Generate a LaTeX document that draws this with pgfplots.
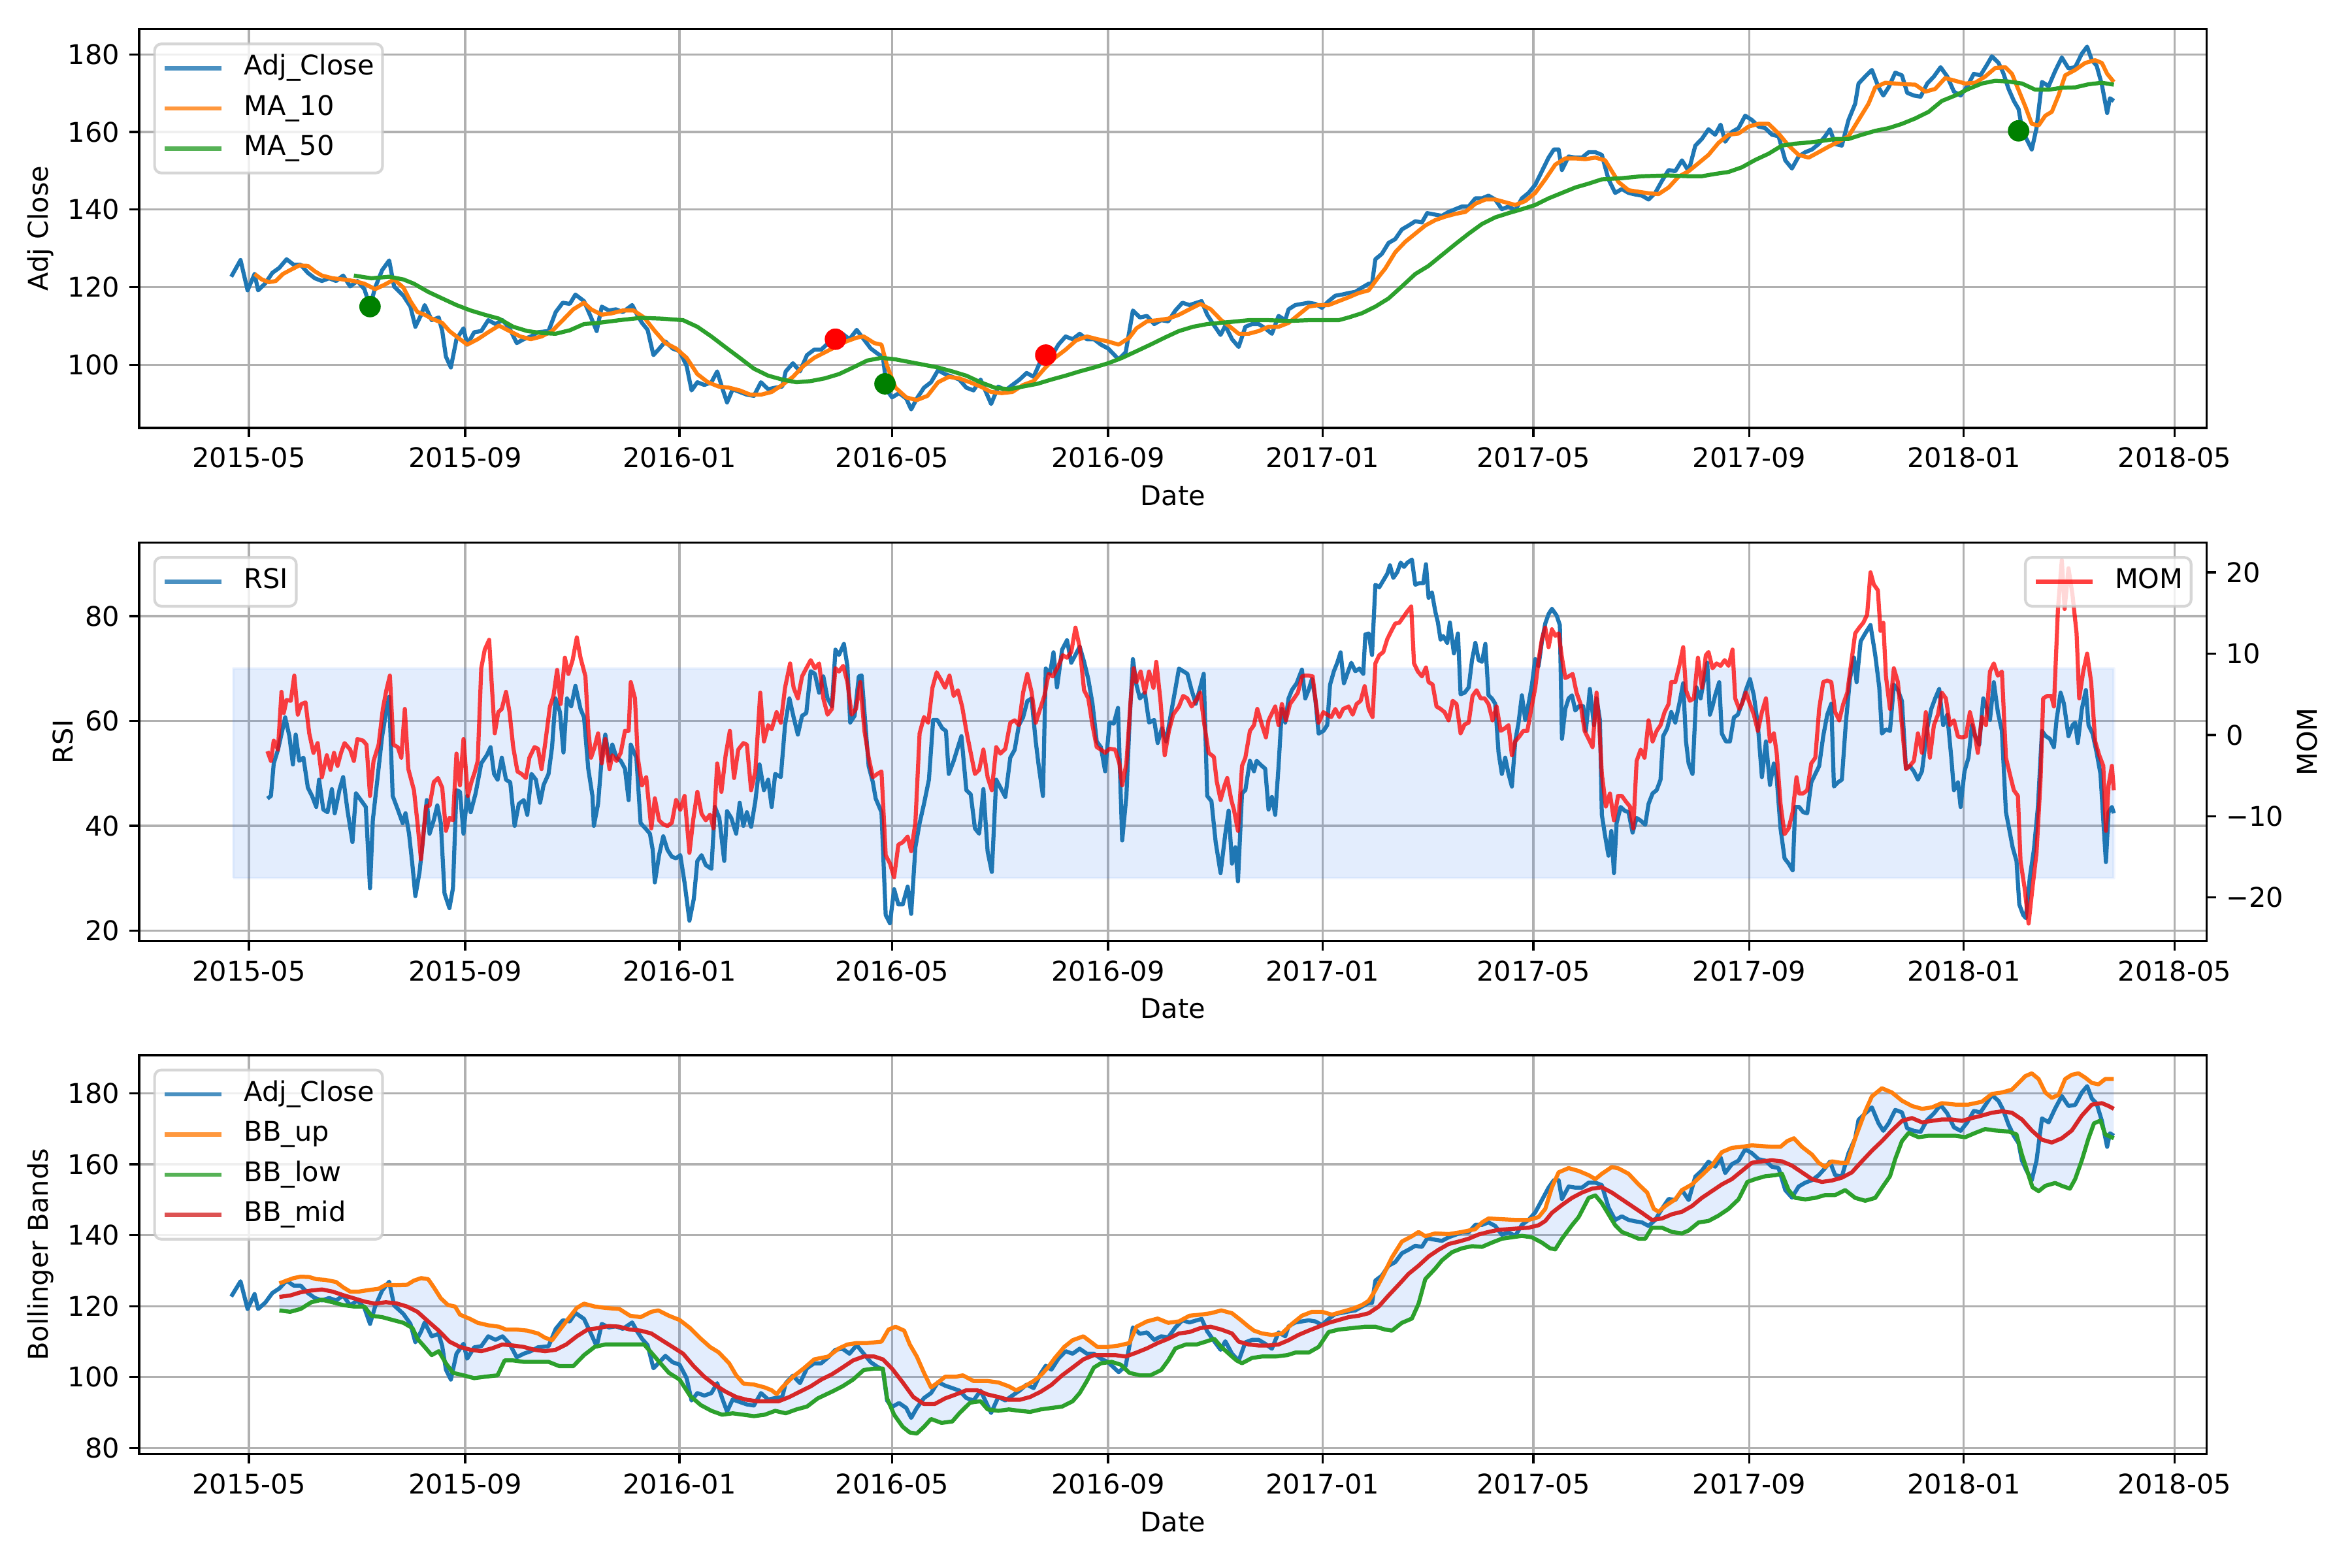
\documentclass[border=0pt]{standalone}
\usepackage{fontspec}
\setmainfont{DejaVu Sans}
\usepackage{pgfplots}
\usepackage{pgfplotstable}
\pgfplotsset{compat=1.18}
\usepgfplotslibrary{fillbetween}
\definecolor{c0}{HTML}{1F77B4}
\definecolor{c1}{HTML}{FF7F0E}
\definecolor{c2}{HTML}{2CA02C}
\definecolor{c3}{HTML}{D62728}
\definecolor{gridc}{HTML}{B0B0B0}
\definecolor{legedge}{HTML}{CCCCCC}
\definecolor{bandc}{RGB}{60,130,240}
\definecolor{mgreen}{HTML}{008000}

\pgfplotstableread{
x y
-10.1 122.7
-4.8 127.0
-0.8 119.2
3.2 123.4
5.2 119.2
9.3 121.0
13.3 123.7
17.3 125.0
21.4 127.2
25.4 125.8
29.4 125.8
33.5 123.7
37.5 122.3
41.5 121.6
45.6 122.3
49.6 121.6
53.6 123.0
57.6 120.2
61.7 121.6
65.7 119.5
68.9 115.0
71.8 119.9
75.8 124.4
79.8 126.9
82.6 120.2
87.9 117.8
91.9 115.0
94.7 109.8
98.0 112.9
100.0 115.4
104.0 111.5
108.0 112.2
110.0 108.7
112.1 102.1
114.9 99.3
118.1 106.6
122.1 109.4
124.2 105.2
128.2 108.4
132.2 108.7
136.2 111.5
140.3 110.5
144.3 111.5
148.3 109.4
152.4 105.6
156.4 106.6
160.4 107.3
164.5 108.4
170.5 108.7
174.6 113.6
178.6 116.0
182.6 115.7
185.8 118.1
190.7 116.4
194.7 112.2
197.9 108.7
200.8 115.0
204.8 114.0
208.8 114.3
212.8 113.6
218.1 115.4
220.9 112.9
223.7 110.8
226.9 109.0
230.2 102.5
233.0 103.9
237.0 106.0
241.1 104.2
245.1 103.5
249.1 99.7
251.9 93.4
255.2 95.5
259.2 94.8
263.2 95.5
266.5 98.3
269.3 94.1
272.1 90.3
275.3 93.7
279.3 93.0
283.4 92.3
287.4 92.0
291.4 95.5
295.5 93.7
299.5 94.1
303.5 94.4
305.5 98.3
309.6 100.4
313.6 98.3
317.6 102.5
321.7 103.9
325.7 103.9
329.7 105.6
333.8 107.7
337.8 108.0
341.8 106.6
345.9 109.0
349.9 106.6
353.9 104.2
358.0 102.8
360.8 102.1
363.2 93.4
366.0 91.6
370.0 92.7
374.1 91.3
376.9 88.5
380.1 91.3
384.2 94.1
388.2 95.5
392.2 98.6
396.2 97.6
400.3 96.9
404.3 96.2
408.3 94.1
412.4 93.4
416.4 96.2
420.4 92.0
422.4 89.9
426.5 94.4
430.5 93.4
434.5 94.8
438.6 96.2
442.6 97.9
446.6 96.9
450.7 101.1
453.5 103.2
456.7 102.1
460.7 105.2
464.8 107.3
468.8 106.6
472.8 108.0
476.9 106.6
480.9 106.6
484.9 105.2
489.0 104.2
495.0 101.4
499.0 103.2
503.1 114.0
507.1 112.2
511.1 112.6
515.2 110.5
519.2 111.5
523.2 111.2
527.3 114.0
531.3 116.0
535.3 115.4
539.4 116.0
542.2 116.4
545.4 112.9
549.4 110.1
553.0 107.7
555.7 110.1
559.5 106.6
563.3 104.6
567.1 109.8
570.9 110.5
574.7 110.5
578.4 109.4
582.2 108.0
586.0 112.6
589.8 111.5
591.7 114.3
595.5 115.4
599.3 115.7
603.1 116.0
606.9 115.7
610.7 114.7
614.5 116.4
618.3 117.8
622.1 118.1
625.9 118.5
629.7 118.8
633.5 119.9
637.3 120.9
639.2 120.9
641.1 127.2
644.8 128.6
648.6 131.4
652.4 132.4
656.2 134.9
660.0 135.9
663.8 137.0
667.6 136.7
670.6 139.1
675.2 138.7
679.0 138.4
682.8 139.4
686.6 140.1
690.4 140.8
694.2 140.8
698.0 142.9
701.8 142.9
705.5 143.6
709.3 142.6
713.1 140.1
716.9 140.8
720.7 139.8
724.5 142.9
728.3 144.3
732.1 146.4
735.9 149.9
739.7 153.4
742.7 155.5
745.4 155.5
747.3 150.2
751.1 153.7
754.9 153.4
758.7 153.4
762.5 154.8
766.3 154.8
770.0 154.1
773.8 147.8
777.6 144.3
781.4 145.3
785.2 144.3
789.0 143.9
792.8 143.6
796.6 142.6
800.4 144.3
804.2 147.4
808.0 150.2
811.8 149.9
815.6 152.7
819.4 149.9
823.2 156.5
826.9 158.2
830.7 160.7
834.5 159.3
837.6 161.9
840.2 157.5
844.0 160.0
847.8 161.0
851.6 164.2
855.4 163.1
859.2 161.4
863.0 161.0
866.8 159.3
870.6 158.9
874.4 152.7
878.2 150.6
882.0 153.7
885.8 154.8
889.6 155.5
893.4 156.9
897.1 158.9
899.8 160.7
902.8 156.9
906.6 156.5
910.4 163.1
914.2 167.3
916.1 172.5
919.9 174.3
923.7 176.0
927.5 171.5
930.2 169.4
933.2 171.5
937.0 175.3
940.8 174.6
943.8 170.1
947.6 169.4
951.4 169.1
955.2 172.5
959.0 174.3
962.8 176.7
966.6 174.3
970.4 170.4
974.2 169.4
978.0 171.8
981.7 175.0
985.5 174.6
989.3 177.4
992.0 179.5
995.8 177.8
998.4 175.3
1001.5 171.1
1004.5 168.0
1007.2 165.9
1009.1 161.0
1011.7 158.2
1014.7 155.5
1017.4 161.0
1020.5 172.9
1024.3 171.8
1028.0 175.7
1031.8 179.2
1035.6 176.4
1039.4 176.7
1043.2 180.2
1046.2 182.0
1048.9 178.5
1051.6 177.1
1054.6 172.2
1057.6 164.9
1059.2 168.7
1061.4 168.0
}\adjclose

\pgfplotsset{
  base/.style={
    scale only axis, width=10.548in, height=2.035in,
    xmin=-62.5, xmax=1114.2,
    xtick={0,123,245,366,489,611,731,854,976,1096},
    xticklabels={2015-05,2015-09,2016-01,2016-05,2016-09,2017-01,2017-05,2017-09,2018-01,2018-05},
    axis line style={line width=0.8pt},
    tick align=outside, major tick length=3.5pt,
    major tick style={black, line width=0.8pt},
    xtick pos=lower, ytick pos=left,
    tick label style={font=\fontsize{10}{12}\selectfont, inner sep=3.5pt},
    label style={font=\fontsize{10}{12}\selectfont},
    xlabel=Date,
    xlabel style={at={(axis description cs:0.5,-0.1938)}, anchor=base},
    legend cell align=left,
    legend image code/.code={\draw[#1, line width=1.5pt] (0pt,0pt) -- (21pt,0pt);},
    legend style={font=\fontsize{10}{12}\selectfont, draw=legedge, line width=1pt,
      fill=white, fill opacity=0.8, draw opacity=0.8, text opacity=1,
      rounded corners=2.5pt, inner xsep=3pt, inner ysep=4pt, row sep=4.8pt,
      nodes={inner sep=0pt, text height=7.5pt, text depth=2.5pt},
      /tikz/every odd column/.append style={column sep=7.5pt}},
    every axis plot/.append style={line width=1.5pt, line join=round},
  },
  gridded/.style={grid=major, major grid style={gridc, line width=0.8pt}},
}

\begin{document}
\begin{tikzpicture}

% ---------------- Top panel ----------------
\begin{axis}[base, gridded, at={(0.710in,5.817in)}, anchor=south west,
  ymin=83.75, ymax=186.55, ytick={100,120,140,160,180},
  yticklabels={100,120,140,160,180},
  ylabel={Adj Close},
  ylabel style={at={(axis description cs:-0.0477,0.5)}, anchor=center},
  legend style={at={(0,1)}, anchor=north west, xshift=5.2pt, yshift=-5pt}]
\addplot[only marks, mark=*, mark size=3.2pt, color=mgreen, forget plot] coordinates {(68.9,115.0) (362.0,95.1) (1007.2,160.3)};
\addplot[only marks, mark=*, mark size=3.2pt, color=red, forget plot] coordinates {(333.8,106.6) (453.5,102.5)};
\addplot[c0] table[x=x, y=y] {\adjclose};
\addlegendentry{Adj\_Close}
\addplot[c1] table {
x y
3.2 123.4
7.3 122.0
11.3 121.3
15.3 121.6
19.3 123.4
23.4 124.4
28.6 125.6
33.5 125.5
37.5 124.1
41.5 123.0
47.6 122.3
53.6 122.0
59.7 121.6
65.7 120.9
71.8 119.5
77.0 120.6
82.6 122.0
87.9 119.9
91.9 116.4
95.9 113.6
100.0 112.9
104.0 111.9
110.0 110.8
114.1 108.7
120.1 106.6
124.2 105.2
130.2 106.6
136.2 108.4
142.3 110.1
148.3 108.7
154.4 107.3
160.4 106.6
166.5 107.3
172.5 108.7
178.6 111.5
184.6 114.3
190.7 116.0
194.7 114.3
200.8 112.9
206.8 113.3
212.8 114.0
218.9 114.0
224.9 112.2
231.0 108.7
237.0 105.6
243.1 104.2
249.1 101.8
255.2 97.6
261.2 95.5
267.3 94.4
273.3 94.1
279.3 93.4
285.4 92.3
291.4 92.3
297.5 93.0
303.5 94.8
309.6 96.9
315.6 99.7
321.7 101.8
327.7 103.2
333.8 104.6
339.8 106.0
345.9 107.0
349.9 107.3
355.9 105.6
360.0 105.2
363.2 99.7
368.0 94.1
374.1 91.6
380.1 90.9
386.2 92.0
392.2 95.5
398.3 96.9
404.3 96.5
410.4 95.5
416.4 94.4
422.4 93.0
428.5 92.7
434.5 93.0
440.6 94.8
446.6 95.8
452.7 99.0
458.7 101.8
464.8 103.9
470.8 106.3
476.9 107.3
482.9 106.6
489.0 106.0
495.0 105.2
501.1 107.0
505.1 109.4
511.1 111.2
517.2 111.5
523.2 111.9
529.3 112.9
535.3 114.3
541.4 115.7
547.4 114.3
553.4 111.5
557.6 110.1
563.3 108.0
569.0 108.0
574.7 108.7
580.3 109.8
586.0 109.8
591.7 110.8
597.4 112.9
603.1 115.0
608.8 115.4
614.5 115.4
620.2 116.4
625.9 117.4
631.6 118.5
637.3 119.2
643.0 122.7
646.7 124.8
652.4 129.0
658.1 131.7
663.8 133.8
669.5 135.9
675.2 137.3
680.9 138.2
686.6 138.9
692.3 139.4
698.0 141.5
703.7 142.6
709.3 142.6
715.0 141.9
720.7 141.2
726.4 142.2
732.1 144.3
737.8 147.8
743.5 151.6
749.2 153.2
754.9 153.2
760.6 153.0
766.3 153.4
771.9 152.7
775.7 149.9
779.5 147.1
785.2 145.0
790.9 144.6
796.6 144.2
802.3 144.0
808.0 145.7
813.7 148.5
819.4 149.9
825.1 152.0
830.7 154.1
836.4 157.2
842.1 159.3
847.8 159.6
853.5 161.4
859.2 162.1
864.9 162.1
870.6 159.6
876.3 156.5
882.0 154.1
887.7 153.4
893.4 154.8
899.0 156.2
904.7 157.5
910.4 158.9
916.1 163.1
921.8 167.3
925.6 171.5
931.3 172.7
937.0 172.5
942.7 172.3
948.4 172.2
954.1 170.4
959.7 171.1
965.4 173.9
971.1 173.2
976.8 172.5
982.5 172.7
988.2 174.3
993.9 176.5
999.6 176.7
1003.4 175.0
1007.2 170.8
1011.0 166.6
1014.7 162.1
1018.6 161.7
1022.4 164.2
1026.1 165.2
1029.9 169.4
1033.7 174.6
1039.4 176.0
1045.1 177.8
1050.8 178.5
1054.6 177.8
1057.6 175.0
1061.4 172.9
};
\addlegendentry{MA\_10}
\addplot[c2] table {
x y
59.7 123.0
69.7 122.3
79.8 122.7
87.9 122.0
93.9 120.9
102.0 118.8
110.0 117.1
118.1 115.4
126.2 114.0
134.2 112.9
142.3 111.9
150.4 109.8
158.4 108.7
166.5 108.2
174.5 108.0
182.6 108.9
190.7 110.5
198.7 110.8
210.8 111.5
222.9 112.1
235.0 111.9
247.1 111.5
255.2 109.8
263.2 107.3
271.3 104.5
279.3 101.8
287.4 99.0
295.5 97.2
303.5 96.2
311.6 95.5
319.7 95.8
327.7 96.5
335.8 97.6
343.8 99.3
351.9 101.1
360.0 101.8
368.0 101.4
376.1 100.7
384.2 100.0
392.2 99.3
400.3 98.3
408.3 97.2
416.4 95.5
424.5 94.1
432.5 93.7
440.6 94.4
448.7 95.1
456.7 96.2
464.8 97.2
472.8 98.3
480.9 99.3
489.0 100.4
497.0 101.8
505.1 103.5
513.1 105.2
521.2 107.0
529.3 108.7
537.3 109.8
545.4 110.5
557.6 111.0
569.0 111.5
580.3 111.5
591.7 111.3
603.1 111.5
614.5 111.5
620.2 111.5
625.9 112.2
633.5 113.3
641.1 115.0
648.6 117.1
656.2 120.2
663.8 123.4
671.4 125.5
679.0 128.3
686.6 131.1
694.2 133.8
701.8 136.3
709.3 138.0
716.9 139.1
724.5 140.1
732.1 141.2
739.7 142.9
747.3 144.3
754.9 145.7
762.5 146.7
770.0 147.8
781.4 148.1
792.8 148.6
808.0 148.8
819.4 148.6
826.9 148.6
834.5 149.2
842.1 149.7
849.7 150.9
857.3 152.8
864.9 154.4
872.5 156.5
880.1 157.0
887.7 157.3
895.2 157.7
902.8 158.2
910.4 158.2
918.0 159.3
925.6 160.3
933.2 161.0
940.8 162.1
948.4 163.5
956.0 165.2
963.5 168.0
971.1 169.4
978.7 171.1
986.3 172.5
993.9 173.2
1001.5 173.0
1009.1 172.5
1016.7 170.9
1024.3 170.9
1031.8 171.4
1039.4 171.5
1047.0 172.3
1054.6 172.7
1061.4 172.2
};
\addlegendentry{MA\_50}
\end{axis}

% ---------------- Middle panel (RSI) ----------------
\begin{axis}[base, gridded, at={(0.710in,3.198in)}, anchor=south west, height=2.034in,
  ymin=17.99, ymax=94.05, ytick={20,40,60,80}, yticklabels={20,40,60,80},
  ylabel={RSI},
  ylabel style={at={(axis description cs:-0.0367,0.5)}, anchor=center},
  legend style={at={(0,1)}, anchor=north west, xshift=5.2pt, yshift=-5pt}]
\addplot[draw=bandc, draw opacity=0.08, fill=bandc, fill opacity=0.14, line width=1pt, forget plot] coordinates {(-8.9,30) (1061.4,30) (1061.4,70) (-8.9,70) (-8.9,30)};
\addplot[c0] table {
x y
10.5 45.2
12.5 45.7
14.1 51.9
16.5 54.5
18.9 58.1
20.6 60.7
23.0 57.1
25.0 51.7
26.6 57.4
28.6 52.4
31.0 53.0
33.5 47.3
35.9 45.7
38.3 43.6
39.9 48.8
42.3 43.1
44.7 42.6
47.2 47.0
48.8 42.4
51.6 47.0
53.6 49.3
56.0 43.1
58.9 36.9
60.9 46.2
63.7 44.9
66.5 43.6
68.9 28.1
70.5 41.1
73.0 48.6
75.8 57.1
77.8 61.2
79.8 64.6
81.8 45.7
84.7 43.1
87.5 40.5
89.1 42.4
91.1 38.5
93.1 32.3
94.7 26.6
97.1 31.2
99.2 37.9
101.2 44.9
102.8 38.5
105.2 41.1
107.2 43.9
109.2 40.5
111.3 27.1
114.1 24.3
116.1 28.1
118.1 46.8
120.1 46.5
122.1 38.5
124.2 45.7
126.2 42.6
129.0 46.2
132.2 51.9
135.4 53.5
137.5 55.0
139.5 49.9
141.5 48.8
143.9 53.0
146.3 48.8
148.7 48.3
151.2 40.0
153.6 44.2
156.4 44.9
158.4 42.1
160.8 49.9
163.3 48.8
165.7 44.4
167.7 47.8
170.5 49.9
172.5 55.0
174.5 64.3
177.0 61.7
179.0 54.0
181.0 64.3
183.4 62.8
185.8 66.7
188.7 62.3
190.7 60.7
193.1 50.9
195.5 45.7
196.3 40.0
198.7 44.2
200.8 53.0
202.8 57.4
205.2 52.4
206.8 55.5
209.2 53.0
211.6 52.4
214.0 50.9
216.1 44.9
217.3 55.5
220.5 53.0
222.9 40.5
225.7 39.5
228.2 38.5
229.8 35.4
231.0 29.2
233.4 34.4
235.8 38.0
238.2 35.4
240.7 34.1
243.1 33.8
245.5 34.4
247.9 29.2
250.7 21.9
253.2 26.1
255.2 33.3
257.6 34.4
260.0 32.5
263.2 31.8
265.2 43.6
267.7 41.5
270.5 33.3
272.1 42.8
274.5 41.5
277.3 38.5
279.3 44.4
281.4 40.0
283.4 42.6
285.8 39.8
288.2 44.7
290.6 51.7
293.1 46.8
295.5 48.8
297.5 43.6
299.5 49.9
302.7 49.3
305.1 59.2
307.6 64.3
310.0 60.7
312.4 57.4
314.8 61.0
317.2 61.5
319.7 69.5
322.1 69.0
324.5 65.4
326.9 68.5
329.3 64.3
331.8 62.8
333.8 73.6
335.8 72.6
338.6 74.7
340.6 70.5
342.2 59.7
344.7 61.0
347.1 68.5
348.7 68.7
350.3 61.7
352.7 51.4
355.1 48.3
356.7 45.2
360.0 42.6
362.4 23.0
364.8 21.4
367.2 27.9
369.6 25.0
372.1 25.0
374.9 28.4
376.9 23.2
379.3 35.9
381.7 40.5
384.2 44.2
387.0 48.8
389.4 60.2
391.8 60.2
394.6 58.6
396.7 58.1
398.3 49.9
401.1 52.4
403.5 55.0
405.5 57.1
408.3 46.8
410.8 46.0
413.2 39.5
415.6 38.5
418.0 47.0
420.4 35.1
422.8 31.2
425.3 48.8
427.7 47.3
430.5 45.5
433.3 53.0
435.8 54.5
438.2 59.2
440.6 60.7
443.0 63.8
445.4 64.3
447.8 56.1
449.5 51.4
451.9 45.7
453.5 70.0
455.9 69.0
457.9 73.1
459.9 66.4
462.8 73.6
465.6 75.4
468.0 71.1
470.4 72.6
472.8 74.2
475.3 71.3
477.7 68.0
480.1 63.3
482.5 56.1
484.9 55.0
487.3 50.4
489.8 59.7
492.2 59.5
494.6 62.5
497.0 37.2
499.4 45.7
501.1 59.2
503.1 71.8
505.1 66.9
507.1 64.3
509.9 65.4
512.3 59.7
515.2 60.2
517.2 55.8
519.6 58.6
522.0 56.1
524.4 60.7
526.9 65.4
529.3 70.0
531.7 69.5
534.1 69.0
536.5 65.9
538.9 63.3
541.4 66.4
543.4 69.0
545.4 45.7
547.8 44.7
550.2 36.9
553.0 31.0
555.7 38.5
557.6 42.9
559.5 32.8
561.4 35.9
562.9 29.4
565.2 46.2
567.1 46.8
569.7 52.4
572.0 50.4
573.5 52.4
576.6 51.4
578.4 50.9
580.3 43.1
582.2 45.5
584.1 42.1
586.0 51.4
587.9 62.3
589.8 59.7
591.7 64.3
593.6 65.9
596.3 67.2
599.3 69.8
601.2 64.3
603.1 65.9
605.0 68.0
606.9 64.3
608.8 57.6
611.5 58.1
613.7 59.2
615.3 66.9
617.5 69.5
619.4 71.1
621.3 73.1
623.2 67.2
625.1 69.0
627.4 71.1
629.7 69.5
632.0 70.0
634.2 69.0
635.4 76.5
637.3 76.7
639.2 72.6
641.1 86.0
643.3 85.5
645.6 86.8
647.9 88.1
649.4 89.7
651.3 87.3
653.6 88.4
655.5 90.2
657.4 89.4
659.3 90.2
661.9 90.8
663.8 86.0
666.1 86.3
668.4 86.3
669.9 89.9
671.4 83.5
673.3 84.5
675.2 80.9
676.7 78.8
678.2 75.5
679.7 76.2
682.0 74.9
683.5 78.8
685.8 72.9
688.1 76.7
689.6 65.1
691.9 65.4
694.2 66.4
696.1 71.6
698.0 74.9
699.9 71.6
701.8 71.3
703.7 74.7
705.5 64.9
707.4 64.3
709.3 63.3
711.2 54.0
713.1 49.9
715.0 53.0
716.9 49.9
718.8 47.5
720.7 56.1
722.6 59.7
724.5 64.9
726.4 60.2
728.3 63.3
730.2 66.9
732.1 71.8
734.0 70.5
735.9 75.2
737.8 78.6
739.7 80.4
741.6 81.4
744.3 80.1
746.1 78.3
747.3 56.6
749.2 62.3
751.1 64.3
753.0 64.9
754.9 62.0
756.8 62.8
759.4 62.8
760.9 58.1
763.2 66.1
765.5 59.2
767.0 64.3
768.9 60.2
770.0 42.1
771.9 38.0
773.8 34.3
775.4 39.0
776.9 31.0
778.4 40.5
780.7 43.6
782.9 42.9
785.2 42.6
787.5 38.7
789.8 41.5
792.1 41.0
794.7 40.2
796.6 44.2
798.9 46.2
801.2 46.8
803.4 48.8
804.9 57.1
807.2 58.6
809.5 61.7
811.8 59.7
814.1 63.3
816.3 67.2
817.9 56.1
819.4 51.9
821.6 49.9
823.9 66.4
826.2 64.3
828.5 68.5
830.0 71.1
831.5 61.2
833.0 62.8
834.5 64.9
836.8 67.4
838.3 57.6
840.6 56.1
842.9 56.1
845.2 60.7
847.4 61.2
849.7 63.3
852.0 65.9
854.3 68.0
856.5 64.9
858.8 59.2
861.1 49.3
863.4 56.1
865.7 47.8
867.9 51.9
869.5 49.3
871.7 39.5
874.0 33.8
876.3 32.8
878.6 31.5
880.1 43.6
882.3 43.6
884.6 42.6
886.9 42.4
889.2 48.3
891.5 49.9
893.7 51.4
896.0 57.1
898.3 61.2
900.6 63.3
902.1 47.5
904.4 48.3
906.6 48.8
908.9 59.7
911.2 68.0
913.5 72.1
915.0 67.4
917.3 75.2
919.9 76.7
922.9 78.3
925.6 72.6
927.9 66.4
929.4 57.6
931.7 58.4
934.0 58.1
936.2 66.9
938.5 65.9
940.8 63.8
943.1 50.9
945.3 51.4
947.6 50.4
949.9 48.8
952.2 50.4
955.2 58.6
957.5 62.3
959.7 64.3
962.0 66.1
964.3 59.2
966.6 61.2
968.9 53.0
970.4 46.8
972.7 48.3
974.2 43.6
976.4 50.4
978.7 53.0
980.6 59.2
982.5 57.1
984.8 55.5
987.1 64.3
989.3 62.3
990.9 60.2
993.1 67.4
995.4 61.7
997.7 58.1
1000.0 42.6
1001.5 40.0
1003.8 35.9
1006.0 33.3
1007.6 25.0
1009.8 23.0
1011.3 22.4
1013.6 30.2
1015.9 35.4
1018.2 43.6
1020.5 58.1
1022.7 57.1
1025.0 56.6
1027.3 55.0
1028.8 60.2
1031.1 65.4
1033.0 63.3
1035.6 57.1
1037.9 59.2
1039.4 59.7
1040.9 55.8
1043.2 62.3
1045.5 65.9
1047.0 59.2
1049.3 57.6
1051.6 54.0
1053.8 49.9
1055.4 41.1
1056.9 33.1
1058.4 42.6
1060.3 43.6
1061.4 42.4
};
\addlegendentry{RSI}
\end{axis}

% ---------------- Middle panel (MOM, right axis) ----------------
\begin{axis}[base, at={(0.710in,3.198in)}, anchor=south west, height=2.034in,
  axis y line*=right, axis x line=none, xlabel={},
  ytick pos=right,
  ymin=-25.37, ymax=23.67, ytick={-20,-10,0,10,20},
  yticklabels={−20,−10,0,10,20},
  ylabel={MOM},
  ylabel style={at={(axis description cs:1.0485,0.5)}, anchor=center},
  legend style={at={(1,1)}, anchor=north east, xshift=-5.2pt, yshift=-5pt}]
\addplot[red, opacity=0.75] table {
x y
10.5 -2.0
12.5 -3.2
14.1 -0.7
16.5 -1.8
18.5 5.3
19.8 2.7
21.4 4.3
23.8 4.2
25.8 7.3
27.8 2.5
29.8 3.8
32.2 4.0
34.3 0.2
36.7 -2.2
39.1 -1.0
41.5 -5.2
44.3 -2.5
46.4 -4.3
48.4 -2.2
50.4 -3.8
52.4 -2.2
54.4 -1.0
57.6 -1.8
59.7 -3.2
61.7 -0.5
64.9 -0.7
66.9 -1.2
68.9 -7.5
70.9 -3.2
73.8 -1.2
76.2 3.2
78.2 5.5
80.2 7.3
82.2 -1.2
84.7 -1.5
86.7 -2.8
88.7 3.2
90.7 -4.2
93.9 -6.8
95.9 -10.8
97.9 -15.3
100.8 -8.8
102.8 -8.7
105.2 -5.8
107.6 -5.3
110.0 -6.5
112.1 -11.8
114.1 -10.2
116.1 -10.5
118.1 -2.3
120.1 -6.2
122.1 -0.5
124.6 -7.5
126.6 -5.8
128.6 -4.5
130.2 -3.2
132.2 8.2
134.2 10.5
136.7 11.7
138.3 5.8
139.9 0.2
141.9 2.8
143.9 3.2
146.3 5.3
148.3 2.8
150.4 -1.5
152.8 -4.5
155.2 -4.8
157.6 -5.3
159.6 -2.8
162.5 -1.5
164.5 -1.7
166.5 -4.2
168.5 -1.2
171.3 3.5
173.3 4.8
175.4 8.0
177.4 3.8
179.8 9.5
181.8 7.5
184.2 9.2
186.6 12.0
188.7 9.5
191.5 7.2
193.1 0.8
194.7 -2.8
196.7 -1.5
198.7 0.2
200.8 -3.5
202.8 -0.5
205.2 -4.2
206.8 -2.5
209.2 -3.2
211.6 -2.2
214.0 0.5
216.1 0.5
217.3 6.5
219.7 4.5
221.3 -2.8
223.7 -6.2
226.1 -5.2
229.0 -11.5
231.0 -7.8
233.4 -10.5
235.8 -11.0
238.2 -11.2
240.7 -10.8
243.1 -8.0
245.5 -9.2
247.9 -7.5
250.7 -14.5
252.8 -10.5
255.2 -7.0
257.6 -9.7
260.0 -10.5
262.4 -9.8
264.4 -11.5
266.5 -3.5
268.9 -7.0
271.3 -2.5
273.7 0.5
276.1 -5.3
278.5 -1.8
281.4 -1.0
283.4 -1.2
285.8 -6.8
288.2 -4.5
291.0 5.2
293.1 -0.8
295.5 1.2
297.5 0.7
300.3 2.8
302.7 1.5
305.1 5.8
308.0 8.8
310.0 5.8
312.4 4.5
314.8 7.2
317.2 8.2
319.7 9.2
322.1 8.2
324.5 8.8
326.9 4.5
329.3 2.5
331.8 3.2
333.8 8.2
335.8 7.8
338.2 8.5
340.6 6.5
343.0 2.5
345.5 3.2
347.9 6.5
350.3 0.5
352.7 -2.8
355.1 -5.2
357.6 -4.8
360.0 -4.5
362.4 -14.8
364.8 -15.8
367.2 -17.5
369.6 -13.5
372.1 -13.2
374.9 -12.5
376.9 -14.3
379.3 -10.8
381.7 0.2
384.2 2.2
386.6 1.5
389.0 5.8
391.4 7.7
393.8 6.8
396.2 5.8
398.7 7.3
401.1 4.8
403.5 5.5
405.9 3.5
408.3 0.5
410.8 -2.2
413.2 -4.8
415.6 -4.3
418.0 -1.8
420.4 -5.2
422.8 -6.8
425.3 -1.5
427.7 -2.3
430.5 -1.7
433.3 1.5
435.8 1.8
438.2 1.2
440.6 5.2
443.0 7.5
445.4 5.3
447.8 1.5
450.3 3.2
452.7 4.8
455.1 7.5
457.5 7.2
460.7 8.5
463.2 9.8
465.6 9.5
468.0 10.2
470.4 13.2
472.8 10.8
475.3 5.5
477.7 4.5
480.1 1.2
482.5 -1.5
484.9 -1.8
487.3 -2.2
489.8 -1.7
493.0 -1.8
495.4 -3.5
497.0 -6.2
499.4 -3.5
501.9 4.5
503.5 8.2
505.1 6.5
507.5 7.8
509.9 5.2
512.3 7.8
514.8 5.8
516.4 9.0
518.8 4.2
521.2 -2.5
523.6 0.5
526.0 2.5
529.3 3.5
531.7 4.8
534.1 4.5
536.5 3.5
538.9 4.2
541.4 5.2
543.8 1.2
546.2 -2.2
549.2 -2.7
550.8 -5.7
553.0 -8.0
555.3 -6.2
556.8 -5.3
559.1 -8.0
560.6 -9.2
562.9 -11.8
565.2 -3.8
567.1 -2.8
569.7 0.5
572.0 1.2
573.9 3.2
576.6 1.2
578.8 -0.3
580.3 1.8
584.1 3.5
586.0 1.2
587.9 3.8
590.2 1.8
592.5 3.8
594.8 4.5
597.0 5.2
599.3 7.2
601.2 7.3
603.1 7.3
605.4 7.2
606.9 4.5
608.8 1.5
611.5 2.8
613.7 2.5
616.0 2.2
618.3 3.2
620.6 2.2
622.8 3.2
625.9 3.5
628.2 2.5
630.4 3.8
632.7 4.2
635.0 6.0
637.3 3.2
639.5 2.2
641.1 8.8
643.3 9.8
645.6 10.2
647.9 11.8
650.2 12.8
652.4 13.7
654.7 13.8
657.0 14.5
659.3 15.2
661.5 15.8
663.1 8.8
665.3 7.8
667.6 7.2
669.9 8.3
671.4 6.5
673.7 6.2
675.9 3.5
678.2 3.2
680.5 2.8
682.8 1.8
685.1 4.2
687.3 3.8
689.6 0.2
691.9 1.3
694.2 1.5
696.4 4.8
698.7 5.5
701.0 4.5
703.3 4.5
705.5 3.8
707.8 1.8
710.1 3.5
712.4 0.5
714.7 0.8
716.9 1.2
718.8 -2.5
720.7 -0.8
723.0 -0.2
725.3 0.5
727.6 0.5
729.8 3.2
732.1 5.8
734.0 9.2
735.9 11.8
737.8 13.2
739.7 10.8
741.6 13.0
743.5 12.2
745.4 12.5
747.3 9.5
749.2 7.0
751.1 7.2
753.4 7.5
755.6 5.2
757.9 3.8
760.2 0.5
762.5 -0.5
764.7 -1.5
767.0 5.2
768.5 1.2
770.0 -4.8
772.3 -8.8
774.6 -7.2
776.9 -10.5
779.2 -7.5
781.4 -7.5
783.7 -8.2
786.0 -8.8
787.9 -11.5
789.8 -3.2
792.1 -1.8
794.3 -2.8
796.6 1.8
798.9 -0.8
801.2 0.5
803.4 1.2
805.7 2.8
808.0 3.8
809.5 6.5
811.8 6.5
814.1 8.5
816.3 10.8
817.9 5.5
820.1 4.2
822.4 4.5
824.7 9.5
827.0 5.8
829.2 9.8
830.7 10.2
833.0 8.2
835.3 8.8
837.6 8.5
839.9 9.2
842.1 8.5
844.4 10.5
845.9 4.5
848.2 3.2
849.7 3.8
852.0 5.2
854.3 3.8
856.5 2.5
858.8 0.5
861.1 2.8
863.4 4.5
865.7 -0.8
867.9 0.2
869.5 -2.2
871.7 -8.5
874.0 -12.2
876.3 -11.5
878.6 -9.5
880.8 -5.2
882.3 -7.2
884.6 -7.2
886.9 -6.8
889.2 -3.5
891.5 -2.8
893.7 3.2
896.0 6.5
898.3 6.7
900.6 6.5
902.8 2.8
905.1 1.8
907.4 3.8
909.7 5.2
911.9 8.8
914.2 12.5
916.5 13.2
918.8 13.8
921.0 14.8
922.9 20.0
924.8 18.5
927.1 17.8
928.6 12.8
930.2 13.8
931.7 7.2
934.0 3.2
936.2 8.2
938.5 6.5
940.8 1.2
943.1 -4.2
945.3 -3.8
947.6 -3.2
949.9 0.2
952.2 -2.2
954.4 2.8
956.7 -2.8
959.0 1.2
961.3 2.5
963.5 5.2
965.8 4.5
968.1 1.2
970.4 1.8
972.7 -0.2
974.9 -0.3
977.2 -0.2
979.5 2.8
981.7 0.8
984.0 -2.2
986.3 2.2
988.6 1.2
990.9 7.8
993.1 8.8
995.4 7.3
997.7 7.8
1000.0 -2.8
1002.2 -4.8
1004.5 -6.8
1006.8 -7.5
1008.3 -15.5
1010.6 -18.8
1012.9 -23.2
1015.1 -18.8
1017.4 -14.5
1019.7 -5.5
1021.2 4.5
1023.5 4.8
1025.8 4.8
1027.3 3.5
1029.6 15.5
1031.8 21.5
1033.4 15.5
1035.6 20.5
1037.9 17.2
1040.2 12.5
1041.7 4.5
1044.0 7.8
1046.2 10.0
1048.5 6.5
1050.8 -0.8
1053.1 -2.5
1055.4 -3.8
1056.9 -11.8
1058.4 -6.2
1060.3 -3.8
1061.4 -6.8
};
\addlegendentry{MOM}
\end{axis}

% ---------------- Bottom panel ----------------
\begin{axis}[base, gridded, at={(0.710in,0.581in)}, anchor=south west, height=2.036in,
  ymin=78.3, ymax=190.75, ytick={80,100,120,140,160,180},
  yticklabels={80,100,120,140,160,180},
  ylabel={Bollinger Bands},
  ylabel style={at={(axis description cs:-0.0476,0.5)}, anchor=center},
  legend style={at={(0,1)}, anchor=north west, xshift=5.2pt, yshift=-5pt}]
\addplot[c0] table[x=x, y=y] {\adjclose};
\addlegendentry{Adj\_Close}
\addplot[c1, name path=up] table {
x y
17.3 126.4
21.4 127.2
25.4 127.9
29.4 128.3
34.3 128.2
38.3 127.6
43.5 127.4
49.6 126.8
53.6 125.3
57.6 124.1
62.5 124.1
67.7 124.5
73.8 124.9
77.8 126.0
83.8 125.9
89.9 126.0
93.9 127.2
98.0 127.9
102.0 127.6
105.2 125.3
109.2 122.2
113.3 120.3
117.3 119.9
120.1 117.6
125.4 116.5
130.2 115.3
136.2 114.6
142.3 114.2
146.3 113.4
152.4 113.4
158.4 113.1
164.5 112.3
168.5 111.1
172.5 110.4
176.6 113.1
181.8 116.5
186.6 119.5
190.7 120.7
196.7 119.9
202.8 119.5
210.8 119.2
216.9 117.3
222.9 116.9
229.0 118.4
233.0 118.8
239.0 117.3
245.1 116.1
251.1 113.8
257.2 110.8
262.4 108.5
267.3 107.0
273.3 103.9
277.3 100.5
281.4 98.2
287.4 97.9
293.5 97.1
297.5 96.3
300.3 95.2
303.5 97.1
309.6 100.1
315.6 102.4
321.7 105.0
329.7 105.8
335.8 108.1
340.6 109.2
345.9 109.6
351.9 109.6
360.0 110.0
364.0 113.4
368.0 114.2
372.9 113.1
376.1 109.2
380.1 105.8
384.2 101.2
388.2 97.1
392.2 98.5
396.2 100.1
402.3 100.1
406.3 100.5
412.4 98.9
420.4 98.9
426.5 98.5
432.5 97.4
436.6 96.3
441.4 97.4
446.6 98.9
450.7 100.5
454.7 102.7
458.7 105.4
464.0 108.5
468.8 110.4
474.9 111.5
478.9 110.0
482.9 108.5
489.0 108.5
495.0 108.9
501.1 109.6
505.1 114.2
511.1 115.7
517.2 116.5
523.2 115.3
529.3 115.7
535.3 117.3
541.4 117.6
547.4 118.0
553.4 118.8
559.5 118.0
564.4 116.1
569.0 114.2
572.0 113.1
576.6 112.3
582.2 111.9
587.9 112.3
593.6 115.0
599.3 117.3
605.0 118.4
610.7 118.4
616.4 117.6
622.1 118.4
627.8 119.2
633.5 120.3
637.3 121.5
641.1 124.5
645.6 128.7
650.5 133.7
656.2 138.2
661.9 139.7
665.7 140.9
669.5 139.7
675.2 140.5
682.8 140.3
690.4 140.9
698.0 141.7
701.8 143.6
705.5 144.7
713.1 144.5
720.7 144.3
728.3 144.3
734.0 145.1
737.8 147.4
741.6 153.5
745.4 157.7
751.1 158.9
756.8 158.1
762.5 156.9
766.3 155.8
770.0 157.3
775.7 159.2
779.5 158.8
785.2 157.3
790.9 154.3
795.8 152.0
799.6 147.4
802.3 146.6
806.1 148.2
811.8 150.1
815.6 152.7
821.3 154.3
826.9 156.9
832.6 159.6
838.3 163.4
844.0 164.6
849.7 164.9
855.4 165.3
861.1 165.1
866.8 164.9
871.7 164.9
875.5 166.5
879.3 167.3
883.9 164.9
889.6 162.7
893.4 160.4
897.1 159.2
900.9 160.8
905.9 160.4
909.7 160.4
914.2 167.3
919.9 174.9
923.7 179.1
929.4 181.4
935.1 180.2
940.8 177.9
946.5 176.4
952.2 175.6
957.8 176.0
963.5 177.2
971.1 176.8
978.7 176.8
986.3 177.6
992.0 179.8
997.7 180.2
1003.4 181.0
1007.2 182.9
1011.0 184.8
1014.7 185.6
1018.6 184.0
1022.4 180.2
1026.1 178.7
1029.9 179.5
1033.7 184.0
1037.5 185.2
1041.3 185.6
1045.1 184.4
1048.9 182.9
1052.7 182.5
1056.5 184.0
1061.4 184.0
};
\addlegendentry{BB\_up}
\addplot[c2, name path=low] table {
x y
17.3 118.8
23.4 118.4
29.4 119.2
35.5 121.1
41.5 121.8
47.6 121.1
53.6 120.3
59.7 119.9
65.7 119.9
69.7 117.3
75.8 116.9
81.8 116.1
87.9 115.3
93.1 113.8
95.9 110.8
100.0 108.5
104.0 106.2
108.0 107.3
112.1 103.9
116.1 101.2
122.1 100.5
128.2 99.7
134.2 100.1
141.5 100.5
145.5 104.7
150.4 104.7
156.4 104.3
162.5 104.3
170.5 104.3
176.6 103.1
184.6 103.1
190.7 106.2
196.7 108.5
202.8 109.2
210.8 109.2
218.9 109.2
224.9 109.2
229.0 106.9
234.2 103.9
239.0 101.2
245.1 99.3
251.1 94.7
257.2 92.1
263.2 90.5
269.3 89.4
275.3 89.8
281.4 89.4
287.4 89.0
293.5 89.4
299.5 90.5
305.5 89.8
311.6 90.9
317.6 91.7
323.7 94.0
331.8 95.9
337.8 97.4
343.8 99.3
349.9 102.0
355.9 102.4
360.8 102.4
363.2 94.0
367.2 89.4
372.1 86.0
376.1 84.4
380.1 84.1
384.2 86.0
388.2 88.2
394.2 87.1
400.3 87.5
404.3 89.8
410.4 92.8
416.4 93.2
420.4 90.9
426.5 90.5
432.5 90.9
438.6 90.5
444.6 90.2
450.7 90.9
456.7 91.3
462.8 91.7
468.8 93.2
472.8 95.5
476.9 98.9
480.9 102.7
484.9 103.9
491.0 104.3
496.2 103.5
501.1 101.2
507.1 100.5
513.1 100.5
519.2 102.0
523.2 104.7
527.3 108.1
533.3 109.2
539.4 109.2
544.6 110.0
549.4 110.8
553.4 108.5
559.5 105.8
562.1 104.7
565.2 103.9
570.9 105.4
576.6 105.8
584.1 105.8
591.0 106.2
595.5 106.9
603.1 106.9
608.8 108.5
614.5 112.7
620.2 113.4
627.8 113.8
635.4 114.2
641.1 114.2
646.7 113.4
650.5 113.1
656.2 115.3
661.9 116.5
665.7 120.7
669.5 127.6
675.2 130.6
679.0 132.9
684.7 135.2
690.4 136.3
696.1 136.9
701.8 136.7
707.4 137.9
713.1 139.0
718.8 139.4
724.5 139.8
730.2 139.4
735.9 137.9
740.5 136.3
743.5 136.0
747.3 139.0
753.0 142.8
756.8 145.1
762.5 150.5
766.3 151.2
770.0 149.0
773.8 145.9
777.6 142.8
781.4 140.9
787.1 139.8
790.9 139.0
794.7 139.0
798.5 142.1
804.2 142.1
809.9 140.9
815.6 140.5
819.4 141.3
825.1 143.6
830.7 144.0
836.4 145.5
842.1 147.4
847.8 150.1
852.8 155.0
857.3 155.8
863.0 156.6
868.7 156.9
872.5 157.3
876.3 152.7
880.1 150.5
885.8 150.1
891.5 150.5
897.1 151.3
902.8 151.3
908.5 152.7
914.2 150.5
919.9 149.7
925.6 150.5
930.2 153.9
934.0 156.6
937.0 161.5
940.8 166.5
944.6 168.8
950.3 167.6
956.0 168.0
963.5 168.0
971.1 168.0
976.8 167.6
982.5 168.8
988.2 169.9
993.9 169.5
1001.5 169.2
1006.0 168.4
1009.1 162.7
1012.1 158.1
1015.1 153.5
1018.6 152.4
1022.4 153.9
1028.0 154.7
1031.8 153.9
1036.4 153.1
1039.4 155.8
1043.2 161.1
1047.0 167.3
1050.1 171.5
1053.8 172.3
1056.5 168.4
1061.4 167.3
};
\addlegendentry{BB\_low}
\addplot[c3] table {
x y
17.3 122.6
23.4 123.0
29.4 123.9
35.5 124.4
41.5 124.7
47.6 124.1
53.6 123.1
59.7 122.2
65.7 121.3
71.8 120.7
77.8 121.1
83.8 120.8
89.9 119.9
95.9 118.4
102.0 115.7
108.0 113.1
114.1 110.0
120.1 108.5
126.2 107.7
132.2 107.3
138.3 108.1
144.3 109.2
150.4 108.9
156.4 108.5
162.5 107.7
168.5 107.3
174.5 107.7
180.6 109.2
186.6 111.5
192.7 113.4
198.7 113.8
204.8 114.4
210.8 114.2
216.9 113.4
222.9 113.1
229.0 112.3
235.0 110.4
241.1 108.5
247.1 106.6
253.1 103.1
259.2 100.1
265.2 97.8
271.3 95.9
277.3 94.4
283.4 93.6
289.4 93.2
295.5 93.2
301.5 93.2
307.6 94.4
313.6 95.9
319.7 97.4
325.7 99.3
331.8 100.8
337.8 102.7
343.8 104.7
349.9 105.8
355.9 105.8
360.8 105.0
366.0 102.4
372.1 98.5
378.1 94.4
384.2 92.4
390.2 92.4
396.2 94.0
402.3 95.1
408.3 96.3
414.4 96.3
420.4 95.1
426.5 94.4
432.5 93.6
438.6 93.6
444.6 94.4
450.7 95.9
456.7 97.8
462.8 100.5
468.8 102.7
474.9 105.0
480.9 106.2
486.9 106.2
493.0 106.2
499.0 105.8
505.1 106.9
511.1 108.1
517.2 109.6
523.2 110.8
529.3 112.3
535.3 112.7
541.4 113.8
547.4 114.2
553.4 113.4
559.5 112.3
563.3 110.0
569.0 109.2
574.7 108.9
580.3 108.9
586.0 109.2
591.7 110.4
597.4 111.9
603.1 113.1
608.8 114.2
614.5 115.3
620.2 116.1
625.9 116.9
631.6 117.3
637.3 118.0
643.0 119.9
648.6 123.0
654.3 126.0
660.0 129.1
665.7 131.4
671.4 134.0
677.1 135.9
682.8 137.5
688.5 138.2
694.2 139.0
699.9 140.2
705.5 140.9
711.2 141.5
716.9 141.7
722.6 141.9
728.3 142.1
734.0 142.8
737.8 144.0
741.6 146.3
747.3 148.5
753.0 150.5
758.7 152.0
764.4 153.1
770.0 153.5
775.7 152.0
781.4 150.1
787.1 148.2
792.8 146.3
798.5 144.3
804.2 144.7
809.9 145.9
815.6 146.6
821.3 148.2
826.9 150.5
832.6 152.4
838.3 154.3
844.0 155.8
849.7 158.1
855.4 160.4
861.1 160.8
866.8 161.1
872.5 160.8
878.2 159.6
883.9 157.7
889.6 155.8
895.2 155.0
900.9 155.4
906.6 156.2
912.3 157.7
918.0 160.8
923.7 163.8
929.4 166.5
935.1 169.5
940.8 172.2
946.5 173.0
952.2 171.8
957.8 172.2
963.5 172.6
969.2 172.6
974.9 172.2
980.6 173.0
986.3 173.7
992.0 174.5
997.7 174.9
1003.4 174.5
1009.1 172.6
1014.7 169.5
1020.5 166.9
1026.1 166.1
1031.8 167.3
1037.5 169.5
1043.2 173.7
1048.9 176.8
1054.6 177.2
1058.4 176.4
1061.4 175.6
};
\addlegendentry{BB\_mid}
\addplot[fill=bandc, fill opacity=0.14, draw=none, forget plot] fill between[of=up and low];
\end{axis}
\pgfresetboundingbox
\path[use as bounding box] (0,0) rectangle (12in,8in);
\end{tikzpicture}
\end{document}
